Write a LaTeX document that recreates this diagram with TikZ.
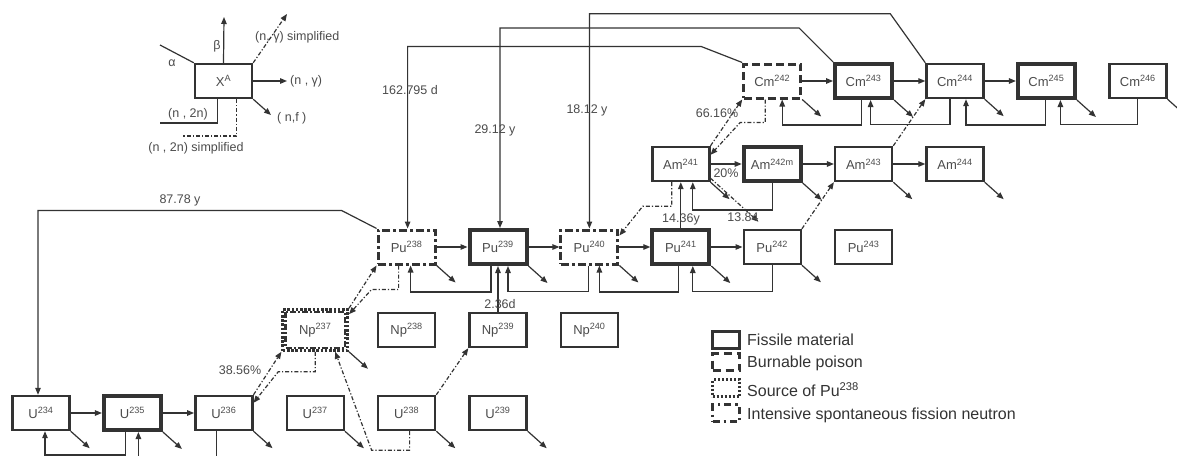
\documentclass[tikz,border=0pt]{standalone}
\usepackage{fontspec}
\setmainfont{Liberation Sans}
\usetikzlibrary{arrows.meta, positioning}

\begin{document}
\begin{tikzpicture}[
  x=1pt, y=-1pt,
  node distance=83pt and 91.4pt, on grid,
  nuc/.style={rectangle, draw=black!80, line width=2.4pt, fill=white,
              minimum width=57pt, minimum height=34pt, inner sep=0pt,
              text=black!70, font=\fontsize{13}{14}\selectfont},
  fissile/.style={nuc, line width=4pt},
  poison/.style={nuc, line width=3pt, dash pattern=on 8pt off 4pt},
  sfn/.style={nuc, line width=3pt, dash pattern=on 8pt off 3pt on 3pt off 3pt},
  srcpu/.style={nuc, line width=2.6pt, dash pattern=on 2.6pt off 1.6pt},
  link/.style={draw=black!80, line width=1.2pt},
  arrow/.style={link, -{Triangle[length=7pt,width=5.5pt]}},
  simp/.style={link, dash pattern=on 4pt off 2pt on 1.2pt off 2pt},
  simparrow/.style={simp, -{Triangle[length=7pt,width=5.5pt]}},
  lbl/.style={inner sep=0pt, text=black!70, font=\fontsize{12.5}{14}\selectfont},
  legbox/.style={minimum width=27pt, minimum height=17pt, inner sep=0pt, draw=black!80},
  legtxt/.style={anchor=west, inner sep=0pt, text=black!80, font=\fontsize{16}{18}\selectfont}
]
  \useasboundingbox (0,0) rectangle (1177,455);
  \clip (0,0) rectangle (1177,455);
  \fill[white] (0,0) rectangle (1177,455);

  % uranium
  \node[nuc] (u234) at (41,413) {U\textsuperscript{234}};
  \node[fissile, right=of u234] (u235) {U\textsuperscript{235}};
  \node[nuc, right=of u235] (u236) {U\textsuperscript{236}};
  \node[nuc, right=of u236] (u237) {U\textsuperscript{237}};
  \node[nuc, right=of u237] (u238) {U\textsuperscript{238}};
  \node[nuc, right=of u238] (u239) {U\textsuperscript{239}};
  % neptunium
  \node[srcpu, minimum width=65pt, minimum height=41pt, above=of u237] (np237) {Np\textsuperscript{237}};
  \node[nuc, right=of np237] (np238) {Np\textsuperscript{238}};
  \node[nuc, right=of np238] (np239) {Np\textsuperscript{239}};
  \node[nuc, right=of np239] (np240) {Np\textsuperscript{240}};
  \draw[link, line width=2.4pt, dash pattern=on 6pt off 2pt on 2pt off 2pt]
    ([shift={(4,4)}]np237.north west) rectangle ([shift={(-4,-4)}]np237.south east);
  % plutonium
  \node[sfn, above=of np238] (pu238) {Pu\textsuperscript{238}};
  \node[fissile, right=of pu238] (pu239) {Pu\textsuperscript{239}};
  \node[sfn, right=of pu239] (pu240) {Pu\textsuperscript{240}};
  \node[fissile, right=of pu240] (pu241) {Pu\textsuperscript{241}};
  \node[nuc, right=of pu241] (pu242) {Pu\textsuperscript{242}};
  \node[nuc, right=of pu242] (pu243) {Pu\textsuperscript{243}};
  % americium
  \node[nuc, above=of pu241] (am241) {Am\textsuperscript{241}};
  \node[fissile, right=of am241] (am242m) {Am\textsuperscript{242m}};
  \node[nuc, right=of am242m] (am243) {Am\textsuperscript{243}};
  \node[nuc, right=of am243] (am244) {Am\textsuperscript{244}};
  % curium
  \node[poison, above=of am242m] (cm242) {Cm\textsuperscript{242}};
  \node[fissile, right=of cm242] (cm243) {Cm\textsuperscript{243}};
  \node[nuc, right=of cm243] (cm244) {Cm\textsuperscript{244}};
  \node[fissile, right=of cm244] (cm245) {Cm\textsuperscript{245}};
  \node[nuc, right=of cm245] (cm246) {Cm\textsuperscript{246}};

  % (n,gamma)
  \foreach \a/\b in {u234/u235, u235/u236, pu238/pu239, pu239/pu240, pu240/pu241,
                     pu241/pu242, am241/am242m, am242m/am243, am243/am244,
                     cm242/cm243, cm243/cm244, cm244/cm245}
    \draw[arrow] (\a) -- (\b);

  % (n,f)
  \foreach \iso in {u234, u235, u236, u237, u238, u239, np237, pu238, pu239, pu240,
                    pu241, pu242, am241, am242m, am243, am244,
                    cm242, cm243, cm244, cm245, cm246} {
    \coordinate (\iso-f) at ([shift={(19,17)}]\iso.south east);
    \draw[arrow] (\iso.south east) -- (\iso-f);
  }

  % (n,2n)
  \foreach \s/\t/\a/\b/\d in {u235/u234/-7/4/23, u236/u235/-7/6/30,
                              pu239/pu238/-7/4/26, pu240/pu239/-1/10/26,
                              pu241/pu240/-2/10/26, pu242/pu241/0/12/26,
                              am242m/am241/0/12/27,
                              cm243/cm242/-2/10/25, cm244/cm243/-5/7/25,
                              cm245/cm244/-1/11/25, cm246/cm245/0/14/25}
    \draw[arrow] ([shift={(\a,0)}]\s.south) -- ++(0,\d) -| ([shift={(\b,0)}]\t.south);

  % decays
  \draw[arrow] (pu238.north west) -- ++(-35,-18) -| ([shift={(-3,0)}]u234.north);
  \draw[arrow] (cm242.north west) -- ++(-41,-16) -| ([shift={(1,0)}]pu238.north);
  \draw[arrow] (cm243.north west) -- ++(-34,-34) -| ([shift={(2,0)}]pu239.north);
  \draw[arrow] (cm244.north west) -- ++(-35,-49) -| (pu240.north);
  \draw[arrow] (np239.north) -- (pu239.south);
  \draw[arrow] (pu241.north) -- (am241.south);

  % simplified chains
  \draw[simparrow] (u236.north east) -- (np237.south west);
  \draw[simparrow] (np237.south) -- ++(0,20) -- ++(-37,0) -- ([shift={(0,8)}]u236.north east);
  \draw[simparrow] ([shift={(3,0)}]u238.south) -- ++(0,19) -- ++(-38,0) -- ([shift={(20,0)}]np237.south);
  \draw[simparrow] (u238.north east) -- (np239.south west);
  \draw[simparrow] (np237.north east) -- (pu238.south west);
  \draw[simparrow] ([shift={(-8,0)}]pu238.south) -- ++(0,24) -- ++(-27,0) -- ([shift={(0,6)}]np237.north east);
  \draw[simparrow] ([shift={(-9,0)}]am241.south) -- ++(0,24) -- ++(-29,0) -- ([shift={(0,7)}]pu240.north east);
  \draw[simparrow] (am241.north east) -- (cm242.south west);
  \draw[simparrow] ([shift={(-7,0)}]cm242.south) -- ++(0,23) -- ++(-25,0) -- ([shift={(0,9)}]am241.north east);
  \draw[simparrow] ([shift={(0,-4)}]am241.south east) -- ([shift={(16,-7)}]pu242.north west);
  \draw[simparrow] (pu242.north east) -- (am243.south west);
  \draw[simparrow] (am243.north east) -- (cm244.south west);

  % values
  \node[lbl] (t87)  at (180,200) {87.78 y};
  \node[lbl] (t162) at (410,90)  {162.795 d};
  \node[lbl] (t29)  at (495,130) {29.12 y};
  \node[lbl] (t18)  at (587,110) {18.12 y};
  \node[lbl] (t66)  at (717,113) {66.16\%};
  \node[lbl] (t20)  at (726,173) {20\%};
  \node[lbl] (t14)  at (681,219) {14.36y};
  \node[lbl] (t13)  at (743,217) {13.84};
  \node[lbl] (t236) at (500,304) {2.36d};
  \node[lbl] (t38)  at (240,370) {38.56\%};

  % key of reactions
  \node[nuc] (xa) at (223.5,81) {X\textsuperscript{A}};
  \coordinate (xa-al) at (160,45);
  \coordinate (xa-be) at (224,17);
  \coordinate (xa-gs) at (287,14);
  \coordinate (xa-ga) at (287,81);
  \coordinate (xa-fi) at (271,115);
  \coordinate (xa-nn) at (160,123);
  \coordinate (xa-ns) at (182,136);
  \draw[link] (xa.north west) -- (xa-al);
  \draw[arrow] (xa.north) -- (xa-be);
  \draw[simparrow] (xa.north east) -- (xa-gs);
  \draw[arrow] (xa.east) -- (xa-ga);
  \draw[arrow] (xa.south east) -- (xa-fi);
  \draw[link] ([shift={(-6,0)}]xa.south) |- (xa-nn);
  \draw[simp] ([shift={(13,0)}]xa.south) |- (xa-ns);
  \node[lbl] (lal) at (172,63) {α};
  \node[lbl] (lbe) at (217,46) {β};
  \node[lbl, anchor=west] (lgs) at (255,37) {(n, γ) simplified};
  \node[lbl, anchor=west] (lga) at (290,81) {(n , γ)};
  \node[lbl, anchor=west] (lfi) at (277,118) {( n,f )};
  \node[lbl] (lnn) at (188,114) {(n , 2n)};
  \node[lbl] (lns) at (196,148) {(n , 2n) simplified};

  % key of boxes
  \node[legbox, line width=3.5pt] (legfis) at (726,340) {};
  \node[legbox, line width=2.6pt, dash pattern=on 8pt off 5pt] (legbp) at (726,362) {};
  \node[legbox, line width=2.4pt, dash pattern=on 2pt off 2pt] (legsrc) at (726,388) {};
  \node[legbox, line width=2.4pt, dash pattern=on 7pt off 4pt on 2.5pt off 4pt] (legsfn) at (726,413) {};
  \node[legtxt] (txtfis) at (747,340) {Fissile material};
  \node[legtxt] (txtbp)  at (747,363) {Burnable poison};
  \node[legtxt] (txtsrc) at (747,390) {Source of Pu\textsuperscript{238}};
  \node[legtxt] (txtsfn) at (747,415) {Intensive spontaneous fission neutron};
\end{tikzpicture}
\end{document}
